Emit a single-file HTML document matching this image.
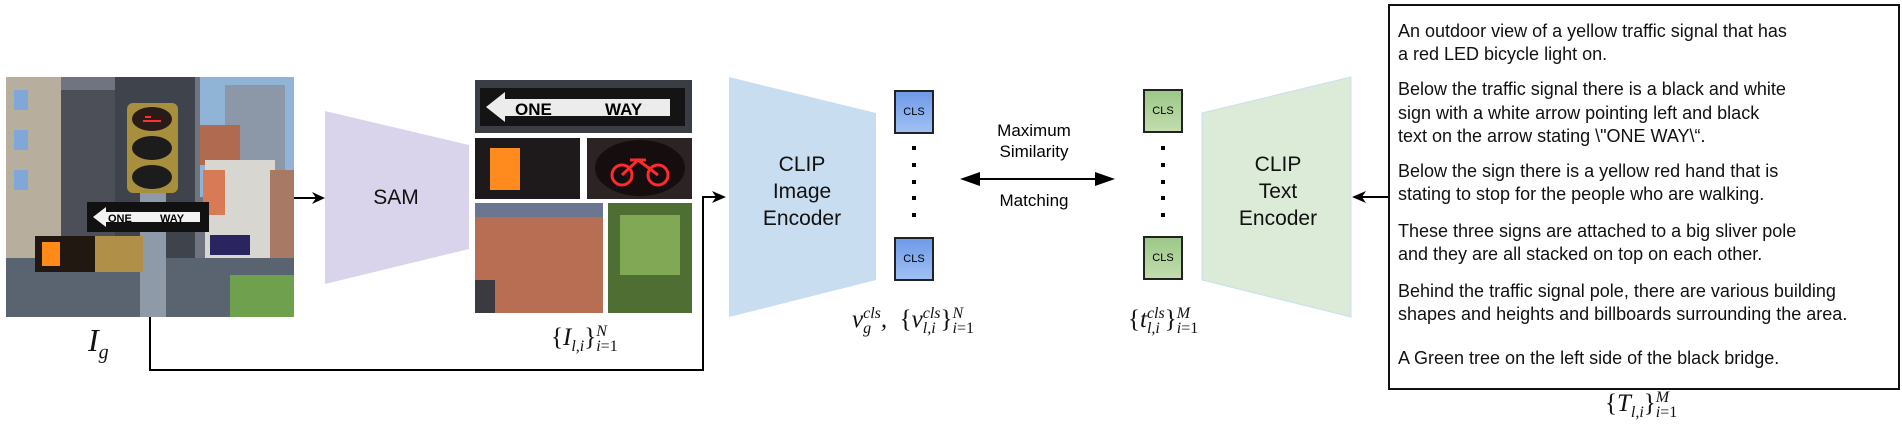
<!DOCTYPE html>
<html><head><meta charset="utf-8"><style>
body{margin:0;width:1902px;height:439px;background:#fff;position:relative;overflow:hidden;font-family:"Liberation Sans",Arial,sans-serif}
.t{position:absolute;font-size:18px;line-height:23px;left:1398px;white-space:nowrap;color:#111}
.m{position:absolute;font-family:"Liberation Serif",serif;font-style:italic;color:#111;white-space:nowrap}
.cls{position:absolute;font-size:11px;text-align:center;border:2px solid #222;box-sizing:border-box}
.lbl{position:absolute;text-align:center;font-size:21px;line-height:27px;color:#111}
.s{display:inline-block;vertical-align:middle;font-size:16px;line-height:15px}
</style></head><body>
<svg width="1902" height="439" style="position:absolute;left:0;top:0">
<rect x="6" y="77" width="288" height="240" fill="#6f7480"/>
<rect x="200" y="77" width="94" height="120" fill="#8fb4d6"/>
<rect x="225" y="85" width="60" height="150" fill="#8c98a8"/>
<rect x="200" y="125" width="40" height="40" fill="#b06a4f"/>
<rect x="205" y="160" width="70" height="110" fill="#d8d6d0"/>
<rect x="270" y="170" width="24" height="100" fill="#a87a66"/>
<rect x="203" y="170" width="22" height="45" fill="#d87a55"/>
<rect x="6" y="77" width="55" height="240" fill="#b8ae9e"/>
<rect x="14" y="90" width="14" height="20" fill="#7fa8d8"/><rect x="14" y="130" width="14" height="20" fill="#7fa8d8"/><rect x="14" y="170" width="14" height="20" fill="#7fa8d8"/>
<rect x="61" y="90" width="70" height="170" fill="#4c4f58"/>
<rect x="115" y="77" width="80" height="200" fill="#3f434c"/>
<rect x="6" y="258" width="288" height="59" fill="#5a6470"/>
<rect x="230" y="275" width="64" height="42" fill="#6fa04e"/>
<rect x="140" y="193" width="26" height="124" fill="#8e9aa8"/>
<rect x="127" y="103" width="51" height="90" rx="6" fill="#a88f3e"/>
<ellipse cx="152" cy="119" rx="20" ry="12" fill="#2a1a18"/><ellipse cx="152" cy="148" rx="20" ry="12" fill="#1c1c1c"/><ellipse cx="152" cy="177" rx="20" ry="12" fill="#1c1c1c"/>
<path d="M143 121 h18 M145 117 h6" stroke="#ff3030" stroke-width="2"/>
<rect x="87" y="202" width="122" height="30" fill="#111"/>
<polygon points="93,217 106,207 106,212 200,212 200,222 106,222 106,227" fill="#f2f2f2"/>
<text x="108" y="222" font-size="11" font-weight="bold" font-family="Liberation Sans">ONE</text>
<text x="160" y="222" font-size="11" font-weight="bold" font-family="Liberation Sans">WAY</text>
<rect x="35" y="236" width="60" height="36" fill="#221812"/>
<rect x="95" y="236" width="48" height="36" fill="#b09048"/>
<rect x="42" y="242" width="18" height="24" fill="#ff8a1a"/>
<rect x="210" y="235" width="40" height="20" fill="#2a2560"/>
<polygon points="325,111 469,145 469,249 325,284" fill="#d9d4ec"/>
<rect x="475" y="80" width="217" height="53" fill="#3a3d44"/>
<rect x="480" y="88" width="205" height="38" fill="#141414"/>
<polygon points="486,107 505,92 505,99 670,99 670,116 505,116 505,122" fill="#ececec"/>
<text x="515" y="115" font-size="17" font-weight="bold" font-family="Liberation Sans">ONE</text>
<text x="605" y="115" font-size="17" font-weight="bold" font-family="Liberation Sans">WAY</text>
<rect x="475" y="138" width="105" height="61" fill="#1e1a1c"/>
<rect x="490" y="148" width="30" height="42" fill="#ff8a1e"/>
<rect x="587" y="138" width="105" height="61" fill="#2c2424"/>
<ellipse cx="640" cy="168" rx="45" ry="28" fill="#150d0e"/>
<circle cx="622" cy="175" r="10" fill="none" stroke="#ff2a2a" stroke-width="3"/><circle cx="658" cy="175" r="10" fill="none" stroke="#ff2a2a" stroke-width="3"/>
<path d="M622 175 L638 160 L658 175 M630 160 h16" stroke="#ff2a2a" stroke-width="3" fill="none"/>
<rect x="475" y="203" width="128" height="110" fill="#b86e52"/>
<rect x="475" y="203" width="128" height="14" fill="#6b7690"/>
<rect x="475" y="280" width="20" height="33" fill="#3a3a40"/>
<rect x="608" y="203" width="84" height="110" fill="#4e6e34"/>
<rect x="620" y="215" width="60" height="60" fill="#8fb85e" opacity=".8"/>
<polygon points="729,77 876,113 876,280 729,317" fill="#c9ddf0"/>
<polygon points="1202,113 1351,77 1351,317 1202,280" fill="#dcebd8" stroke="#c9dff0" stroke-width="1"/>
<g stroke="#000" stroke-width="2" fill="none">
<line x1="294" y1="198" x2="316" y2="198"/>
<polyline points="150,317 150,370 703,370 703,197 716,197"/>
<line x1="1390" y1="197" x2="1362" y2="197"/>
<line x1="970" y1="179" x2="1105" y2="179"/>
</g>
<g fill="#000">
<polygon points="325,198 312,192 316,198 312,204"/>
<polygon points="726,197 712,191 716,197 712,203"/>
<polygon points="1352,197 1366,191 1362,197 1366,203"/>
<polygon points="960,179 980,172 980,186"/>
<polygon points="1115,179 1095,172 1095,186"/>
</g>
<g fill="#000">
<rect x="912" y="146" width="4" height="4"/><rect x="912" y="163" width="4" height="4"/><rect x="912" y="180" width="4" height="4"/><rect x="912" y="196" width="4" height="4"/><rect x="912" y="213" width="4" height="4"/>
<rect x="1161" y="146" width="4" height="4"/><rect x="1161" y="163" width="4" height="4"/><rect x="1161" y="180" width="4" height="4"/><rect x="1161" y="196" width="4" height="4"/><rect x="1161" y="213" width="4" height="4"/>
</g>
<rect x="1389" y="5" width="510" height="384" fill="none" stroke="#111" stroke-width="2"/>
</svg>
<div class="lbl" style="left:346px;top:184px;width:100px">SAM</div>
<div class="lbl" style="left:742px;top:151px;width:120px">CLIP<br>Image<br>Encoder</div>
<div class="lbl" style="left:1218px;top:151px;width:120px">CLIP<br>Text<br>Encoder</div>
<div class="cls" style="left:894px;top:90px;width:40px;height:44px;line-height:40px;background:linear-gradient(#6f9ae8,#9fc0f4)">CLS</div>
<div class="cls" style="left:894px;top:237px;width:40px;height:44px;line-height:40px;background:linear-gradient(#6f9ae8,#9fc0f4)">CLS</div>
<div class="cls" style="left:1143px;top:89px;width:40px;height:44px;line-height:40px;background:linear-gradient(#9cc888,#c2dcae)">CLS</div>
<div class="cls" style="left:1143px;top:236px;width:40px;height:44px;line-height:40px;background:linear-gradient(#9cc888,#c2dcae)">CLS</div>
<div style="position:absolute;left:974px;top:120px;width:120px;text-align:center;font-size:17px;line-height:21px">Maximum<br>Similarity</div>
<div style="position:absolute;left:974px;top:191px;width:120px;text-align:center;font-size:17px">Matching</div>
<div class="m" style="left:88px;top:322px;font-size:32px">I<sub style="font-size:20px">g</sub></div>
<div class="m" style="left:551px;top:324px;font-size:25px"><span style="font-style:normal">{</span>I<sub style="font-size:16px">l,i</sub><span style="font-style:normal">}</span><span class="s">N<br>i<span style="font-style:normal">=1</span></span></div>
<div class="m" style="left:852px;top:306px;font-size:25px">v<span class="s">cls<br>g</span>,&nbsp; <span style="font-style:normal">{</span>v<span class="s">cls<br>l,i</span><span style="font-style:normal">}</span><span class="s">N<br>i<span style="font-style:normal">=1</span></span></div>
<div class="m" style="left:1128px;top:306px;font-size:25px"><span style="font-style:normal">{</span>t<span class="s">cls<br>l,i</span><span style="font-style:normal">}</span><span class="s">M<br>i<span style="font-style:normal">=1</span></span></div>
<div class="m" style="left:1605px;top:390px;font-size:25px"><span style="font-style:normal">{</span>T<sub style="font-size:16px">l,i</sub><span style="font-style:normal">}</span><span class="s">M<br>i<span style="font-style:normal">=1</span></span></div>
<div class="t" style="top:20px">An outdoor view of a yellow traffic signal that has</div>
<div class="t" style="top:43px">a red LED bicycle light on.</div>
<div class="t" style="top:78px">Below the traffic signal there is a black and white</div>
<div class="t" style="top:102px">sign with a white arrow pointing left and black</div>
<div class="t" style="top:125px">text on the arrow stating \"ONE WAY\“.</div>
<div class="t" style="top:160px">Below the sign there is a yellow red hand that is</div>
<div class="t" style="top:183px">stating to stop for the people who are walking.</div>
<div class="t" style="top:220px">These three signs are attached to a big sliver pole</div>
<div class="t" style="top:243px">and they are all stacked on top on each other.</div>
<div class="t" style="top:280px">Behind the traffic signal pole, there are various building</div>
<div class="t" style="top:303px">shapes and heights and billboards surrounding the area.</div>
<div class="t" style="top:347px">A Green tree on the left side of the black bridge.</div>
</body></html>
